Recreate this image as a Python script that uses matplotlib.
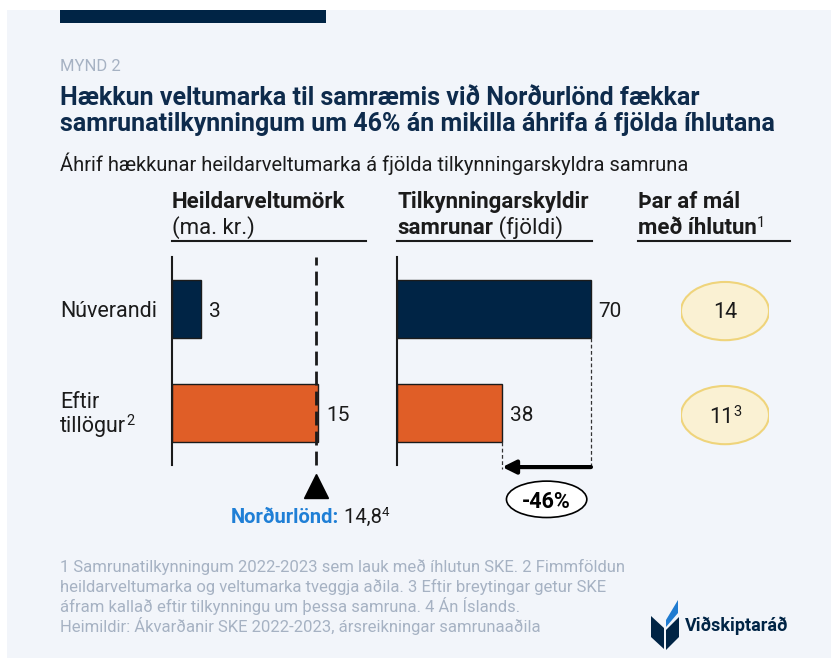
import matplotlib
matplotlib.use("Agg")
import numpy as np
import matplotlib.pyplot as plt
from matplotlib.patches import Rectangle, Ellipse, Polygon
from matplotlib.lines import Line2D

plt.rcParams["font.family"] = ["Roboto", "DejaVu Sans"]

# -----------------------------------------------------------
# data
# -----------------------------------------------------------
row_labels = ["Núverandi", "Eftir\ntillögur"]
row_notes = ["", "2"]
thresholds = [3, 15]          # heildarveltumörk, ma. kr.
mergers = [70, 38]            # tilkynningarskyldir samrunar (fjöldi)
interventions = [14, 11]      # þar af mál með íhlutun
intervention_notes = ["", "3"]
nordic_threshold = 14.8
change_label = "-46%"

title = ("Hækkun veltumarka til samræmis við Norðurlönd fækkar\n"
         "samrunatilkynningum um 46% án mikilla áhrifa á fjölda íhlutana")
subtitle = "Áhrif hækkunar heildarveltumarka á fjölda tilkynningarskyldra samruna"
footnotes = [
    "1 Samrunatilkynningum 2022-2023 sem lauk með íhlutun SKE. 2 Fimmföldun",
    "heildarveltumarka og veltumarka tveggja aðila. 3 Eftir breytingar getur SKE",
    "áfram kallað eftir tilkynningu um þessa samruna. 4 Án Íslands.",
    "Heimildir: Ákvarðanir SKE 2022-2023, ársreikningar samrunaaðila",
]

# -----------------------------------------------------------
# style
# -----------------------------------------------------------
W, H = 831, 658
NAVY = "#002445"
ORANGE = "#e05e27"
TITLE_C = "#0e2b4c"
TEXT_C = "#1b1b1b"
GREY = "#a6b2c3"
BLUE = "#1f7fd6"
BG = "#f2f5fa"

fig = plt.figure(figsize=(W / 100, H / 100), dpi=100)
fig.patch.set_facecolor("white")
renderer = fig.canvas.get_renderer()


def fx(px):
    return px / W


def fy(py):
    return 1 - py / H


def rich(x, y, parts, ha="left"):
    """Draw text pieces one after another; x, y = pixel position of baseline."""
    made = []
    for s, kw in parts:
        kw = dict(kw)
        rise = kw.pop("rise", 0)
        t = fig.text(0, 0, s, va="baseline", ha="left", **kw)
        made.append((t, rise))
    widths = [t.get_window_extent(renderer).width for t, _ in made]
    start = x - (sum(widths) / 2 if ha == "center" else 0)
    for (t, rise), w in zip(made, widths):
        t.set_position((fx(start), fy(y - rise)))
        start += w


# background panel and top bar
fig.add_artist(Rectangle((fx(7), 0), 1 - fx(7), fy(10), transform=fig.transFigure,
                         facecolor=BG, edgecolor="none", zorder=-10))
fig.add_artist(Rectangle((fx(60), fy(23)), fx(326) - fx(60), fy(10) - fy(23),
                         transform=fig.transFigure, facecolor=NAVY, edgecolor="none"))

# header texts
fig.text(fx(60), fy(71), "MYND 2", fontsize=12, color=GREY, va="baseline")
fig.text(fx(60), fy(105), title.split("\n")[0], fontsize=18, fontweight="bold",
         color=TITLE_C, va="baseline")
fig.text(fx(60), fy(131), title.split("\n")[1], fontsize=18, fontweight="bold",
         color=TITLE_C, va="baseline")
fig.text(fx(60), fy(171), subtitle, fontsize=14.5, color=TEXT_C, va="baseline")

bold = dict(fontsize=16, fontweight="bold", color=TEXT_C)
reg = dict(fontsize=16, color=TEXT_C)
sup = dict(fontsize=10.5, color=TEXT_C, rise=7)

rich(172, 208, [("Heildarveltumörk", bold)])
rich(172, 234, [("(ma. kr.)", reg)])
rich(397, 208, [("Tilkynningarskyldir", bold)])
rich(397, 234, [("samrunar", bold), (" (fjöldi)", reg)])
rich(638, 208, [("Þar af mál", bold)])
rich(638, 234, [("með íhlutun", bold), ("1", sup)])
for x0, x1 in [(172, 366), (397, 592), (638, 790)]:
    fig.add_artist(Line2D([fx(x0), fx(x1)], [fy(241), fy(241)], transform=fig.transFigure,
                          color=TEXT_C, lw=1.5))

# row labels
label_kw = dict(fontsize=15.5, color=TEXT_C)
rich(60, 317, [(row_labels[0], label_kw)])
first, second = row_labels[1].split("\n")
rich(60, 408, [(first, label_kw)])
rich(60, 432, [(second, label_kw), (row_notes[1], sup)])

# -----------------------------------------------------------
# bar panels
# -----------------------------------------------------------
y = np.arange(len(row_labels))
bar_h = 0.56
colors = [NAVY, ORANGE]
ax_top, ax_bot = 257, 465


def make_axes(x0, width):
    ax = fig.add_axes([fx(x0), fy(ax_bot), width / W, (ax_bot - ax_top) / H])
    ax.set_facecolor("none")
    ax.set_ylim(1.5, -0.5)
    for s in ["top", "right", "bottom"]:
        ax.spines[s].set_visible(False)
    ax.spines["left"].set_linewidth(1.5)
    ax.spines["left"].set_color(TEXT_C)
    ax.set_xticks([])
    ax.set_yticks([])
    return ax


# left: thresholds
ax1 = make_axes(172, 195)
ax1.set_xlim(0, 20)
ax1.barh(y, thresholds, height=bar_h, color=colors, edgecolor=TEXT_C, linewidth=1)
for i, v in enumerate(thresholds):
    ax1.annotate(str(v), (v, i), xytext=(5.5, 0), textcoords="offset points",
                 ha="left", va="center_baseline", fontsize=15, color=TEXT_C)
ax1.axvline(nordic_threshold, color=TEXT_C, lw=2, ls=(0, (5, 2.2)), clip_on=False, zorder=3)
ax1.plot([nordic_threshold], [1.70], marker="^", ms=17, color="black", clip_on=False)
rich(231, 523, [("Norðurlönd:", dict(fontsize=14.5, fontweight="bold", color=BLUE)),
                (" " + f"{nordic_threshold:.1f}".replace(".", ","), dict(fontsize=14.5, color=TEXT_C)),
                ("4", dict(fontsize=9.5, color=TEXT_C, rise=7))])

# right: merger notifications
ax2 = make_axes(397, 80 * 2.771)
ax2.set_xlim(0, 80)
ax2.barh(y, mergers, height=bar_h, color=colors, edgecolor=TEXT_C, linewidth=1)
for i, v in enumerate(mergers):
    ax2.annotate(str(v), (v, i), xytext=(5.5, 0), textcoords="offset points",
                 ha="left", va="center_baseline", fontsize=15, color=TEXT_C)
arrow_y = 1.52
for i, v in enumerate(mergers):
    ax2.plot([v, v], [i + bar_h / 2, arrow_y + 0.02], color="#333333", lw=0.9,
             ls=(0, (3, 2)), clip_on=False)
ax2.annotate("", xy=(mergers[1], arrow_y), xytext=(mergers[0], arrow_y),
             arrowprops=dict(arrowstyle="-|>", lw=3, color="black", mutation_scale=20,
                             shrinkA=0, shrinkB=0), annotation_clip=False)
mid = (mergers[0] + mergers[1]) / 2
ax2.add_patch(Ellipse((mid, 1.83), 29, 0.35, facecolor="white", edgecolor="black",
                      lw=1.2, clip_on=False))
ax2.text(mid, 1.83, change_label, ha="center", va="center_baseline", fontsize=15.5,
         fontweight="bold", color="black", clip_on=False)

# third column: interventions in ellipses
ax3 = fig.add_axes([fx(681), fy(ax_bot), 88 / W, (ax_bot - ax_top) / H])
ax3.set_xlim(0, 1)
ax3.set_ylim(1.5, -0.5)
ax3.axis("off")
for i, v in enumerate(interventions):
    ax3.add_patch(Ellipse((0.5, i + 0.02), 1.0, 0.56, facecolor="#faf1d3",
                          edgecolor="#efd47b", lw=1.5))
rich(725, 318, [(str(interventions[0]), label_kw)], ha="center")
rich(725, 423, [(str(interventions[1]), label_kw), (intervention_notes[1], sup)], ha="center")

# -----------------------------------------------------------
# footnotes and logo
# -----------------------------------------------------------
for k, line in enumerate(footnotes):
    fig.text(fx(60), fy(572 + 20 * k), line, fontsize=12, color=GREY, va="baseline")

logo = [
    ([(651, 616), (664, 628), (664, 649), (651, 637)], NAVY),
    ([(666, 630), (679, 617), (679, 637), (666, 650)], NAVY),
    ([(666, 620), (678, 600), (678, 613), (666, 627)], "#1f7bd0"),
]
for pts, c in logo:
    fig.add_artist(Polygon([(fx(a), fy(b)) for a, b in pts], closed=True,
                           transform=fig.transFigure, facecolor=c, edgecolor="none"))
fig.text(fx(685), fy(631), "Viðskiptaráð", fontsize=13, fontweight="bold",
         color=NAVY, va="baseline")

fig.savefig("out.png", dpi=100, facecolor=fig.get_facecolor())
